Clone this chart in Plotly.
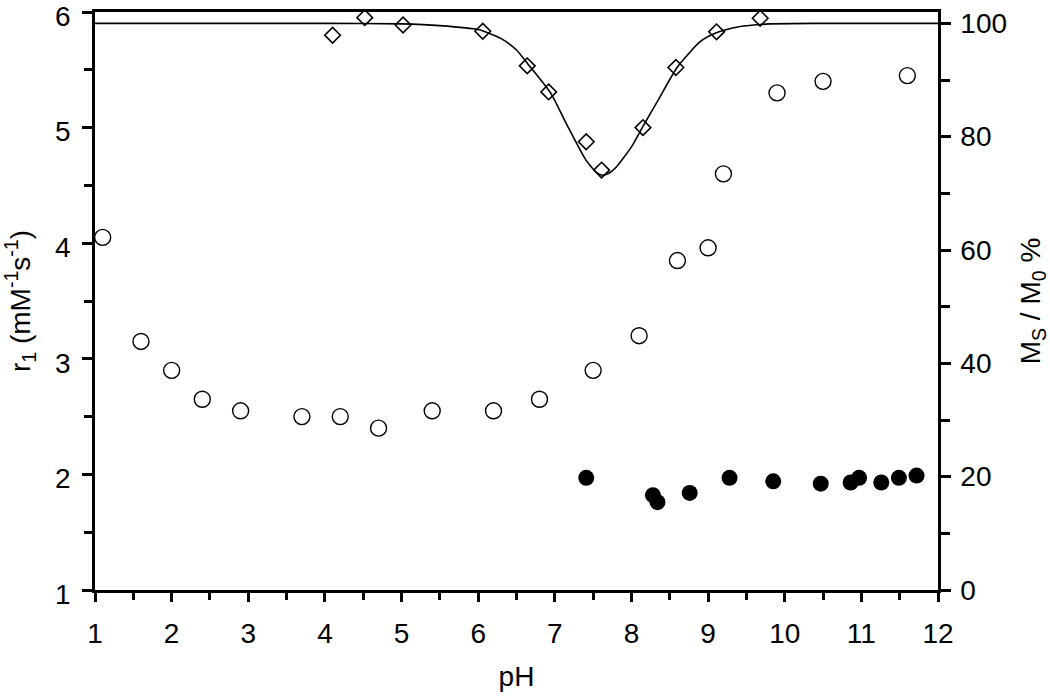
import plotly.graph_objects as go

# Open circles: r1 (left axis)
ph_open = [1.1, 1.6, 2.0, 2.4, 2.9, 3.7, 4.2, 4.7, 5.4, 6.2, 6.8, 7.5, 8.1, 8.6, 9.0, 9.2, 9.9, 10.5, 11.6]
r1_open = [4.05, 3.15, 2.9, 2.65, 2.55, 2.5, 2.5, 2.4, 2.55, 2.55, 2.65, 2.9, 3.2, 3.85, 3.96, 4.6, 5.3, 5.4, 5.45]

# Filled circles: r1 (left axis)
ph_fill = [7.41, 8.28, 8.34, 8.76, 9.28, 9.85, 10.47, 10.86, 10.97, 11.26, 11.49, 11.72]
r1_fill = [1.97, 1.82, 1.76, 1.84, 1.97, 1.94, 1.92, 1.93, 1.97, 1.93, 1.97, 1.99]

# Diamonds: Ms/M0 % (right axis)
ph_dia = [4.10, 4.52, 5.02, 6.06, 6.64, 6.92, 7.41, 7.61, 8.15, 8.58, 9.11, 9.68]
ms_dia = [97.9, 101.0, 99.7, 98.6, 92.5, 87.9, 79.1, 74.1, 81.6, 92.2, 98.5, 100.9]

# Fitted curve
ph_fit = [1, 4, 5, 5.5, 6, 6.3, 6.5, 6.65, 6.95, 7.15, 7.4, 7.55, 7.62, 7.7, 7.8, 8.0, 8.15, 8.35, 8.6, 8.9, 9.1, 9.4, 9.8, 10.5, 12]
ms_fit = [100, 100, 99.9, 99.6, 98.9, 97.3, 95.3, 92.8, 87.6, 82.3, 76.0, 73.6, 73.2, 73.5, 74.6, 78.2, 81.8, 86.5, 92.3, 96.8, 98.3, 99.4, 99.9, 100, 100]

FONT = "Liberation Sans"
TF = dict(family=FONT, size=28, color="black")

fig = go.Figure()
fig.add_trace(go.Scatter(x=ph_fit, y=ms_fit, mode="lines", yaxis="y2",
                         line=dict(color="black", width=1.6, shape="spline", smoothing=0.6),
                         showlegend=False))
fig.add_trace(go.Scatter(x=ph_dia, y=ms_dia, mode="markers", yaxis="y2",
                         marker=dict(symbol="diamond-open", size=12, color="black", line=dict(width=1.6)),
                         showlegend=False))
fig.add_trace(go.Scatter(x=ph_open, y=r1_open, mode="markers",
                         marker=dict(symbol="circle-open", size=16, color="black", line=dict(width=1.4)),
                         showlegend=False))
fig.add_trace(go.Scatter(x=ph_fill, y=r1_fill, mode="markers",
                         marker=dict(symbol="circle", size=16, color="black"),
                         showlegend=False))

fig.update_layout(
    width=1050, height=700,
    margin=dict(l=95, r=112, t=12, b=110, autoexpand=False),
    plot_bgcolor="white", paper_bgcolor="white",
    font=TF,
    xaxis=dict(range=[1, 12], dtick=1, tick0=1, showgrid=False, zeroline=False, automargin=False,
               showline=True, linecolor="black", linewidth=2.5, mirror=True,
               ticks="outside", ticklen=9, tickwidth=2.5, tickcolor="black", tickfont=TF,
               ticklabeloverflow="allow", ticklabelstandoff=8,
               minor=dict(dtick=0.5, ticks="outside", ticklen=7, tickwidth=2.5, tickcolor="black"),
               title=dict(text="pH", font=TF, standoff=19)),
    yaxis=dict(range=[1, 6], dtick=1, showgrid=False, zeroline=False, automargin=False,
               showline=True, linecolor="black", linewidth=2.5, mirror=True,
               ticks="outside", ticklen=10, tickwidth=2.5, tickcolor="black", tickfont=TF,
               ticklabeloverflow="allow", ticklabelstandoff=6, ticklabelshift=4,
               minor=dict(dtick=0.5, ticks="outside", ticklen=8, tickwidth=2.5, tickcolor="black"),
               title=dict(text="r<sub>1</sub> (mM<sup>-1</sup>s<sup>-1</sup>)", font=TF, standoff=22)),
    yaxis2=dict(range=[0, 102], dtick=20, overlaying="y", side="right", showgrid=False, zeroline=False,
                automargin=False, showline=True, linecolor="black", linewidth=2.5,
                ticks="outside", ticklen=10, tickwidth=2.5, tickcolor="black", tickfont=TF,
                ticklabeloverflow="allow", ticklabelstandoff=4,
                minor=dict(dtick=10, ticks="outside", ticklen=9, tickwidth=2.5, tickcolor="black"),
                title=dict(text="M<sub>S</sub> / M<sub>0</sub> %", font=TF, standoff=22)),
)

fig.write_html("out.html", config={"displayModeBar": False},
               post_script="document.body.style.margin='0';document.body.style.overflow='hidden';")
